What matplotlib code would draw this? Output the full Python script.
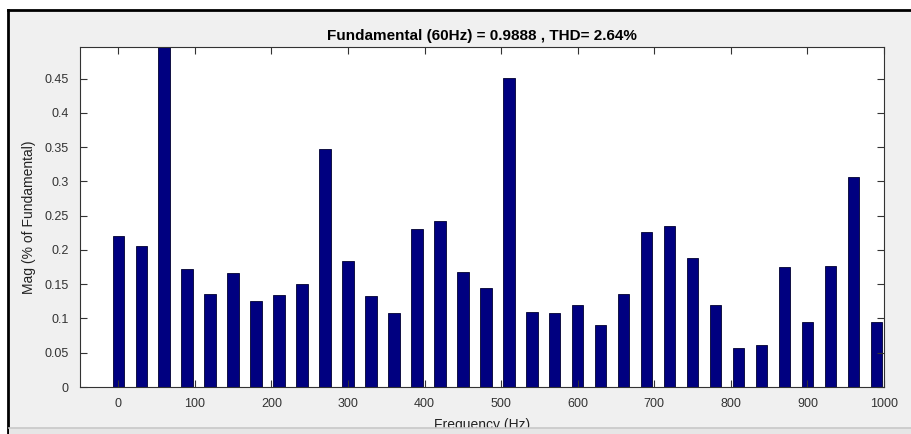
import numpy as np
import matplotlib.pyplot as plt
from matplotlib.patches import Rectangle
from matplotlib.lines import Line2D

# Harmonic spectrum data (every 30 Hz)
freqs = np.arange(0, 1000, 30)
mags = [0.221, 0.2055, 100.0, 0.172, 0.136, 0.166, 0.125, 0.1345, 0.150, 0.347,
        0.184, 0.133, 0.108, 0.231, 0.242, 0.168, 0.144, 0.451, 0.110, 0.108,
        0.120, 0.090, 0.136, 0.226, 0.2355, 0.188, 0.120, 0.057, 0.0617, 0.1755,
        0.0947, 0.177, 0.3066, 0.0947]
xticks = np.arange(0, 1001, 100)
yticks = [0, 0.05, 0.1, 0.15, 0.2, 0.25, 0.3, 0.35, 0.4, 0.45]
title = 'Fundamental (60Hz) = 0.9888 , THD= 2.64%'

plt.rcParams['font.family'] = ['Liberation Sans', 'DejaVu Sans']

W, H = 912, 434
fig = plt.figure(figsize=(W / 100, H / 100), dpi=100)
fig.patch.set_facecolor('white')

# grey window background with black frame on top/left
fig.patches.append(Rectangle((8 / W, 0), 1, 1 - 10 / H, transform=fig.transFigure,
                             facecolor='#f0f0f0', edgecolor='none', zorder=-5))
fig.lines.append(Line2D([8 / W, 8 / W], [0, 1 - 10 / H], transform=fig.transFigure,
                        color='black', lw=2, zorder=-4))
fig.lines.append(Line2D([8 / W, 1], [1 - 10 / H, 1 - 10 / H], transform=fig.transFigure,
                        color='black', lw=2, zorder=-4))

ax = fig.add_axes([80 / W, 1 - 387 / H, (884 - 80) / W, (387 - 47) / H])
ax.set_facecolor('white')
ax.bar(freqs, mags, width=15, color='#000080', edgecolor='#000030', linewidth=0.6)
ax.set_xlim(-50, 1000)
ax.set_ylim(0, 0.496)
ax.set_xticks(xticks)
ax.set_yticks(yticks)
ax.set_yticklabels(['%g' % t for t in yticks])
ax.tick_params(direction='in', length=5, width=0.8, top=True, right=True,
               labelsize=9, labelcolor='#333333', color='#333333', pad=8)
for s in ax.spines.values():
    s.set_color('#333333')
    s.set_linewidth(0.8)
ax.set_title(title, fontsize=11, fontweight='bold', pad=5)
ax.set_ylabel('Mag (% of Fundamental)', fontsize=10, color='#222222', labelpad=6)
ax.set_xlabel('Frequency (Hz)', fontsize=10, color='#222222', labelpad=6)

# bottom strip of the window hides part of the x label
fig.patches.append(Rectangle((9 / W, 0), 1, 6 / H, transform=fig.transFigure,
                             facecolor='#e6e6e6', edgecolor='none', zorder=10))
fig.lines.append(Line2D([9 / W, 1], [6 / H, 6 / H], transform=fig.transFigure,
                        color='#c8c8c8', lw=1.2, zorder=11))

fig.savefig('out.png', dpi=100)
